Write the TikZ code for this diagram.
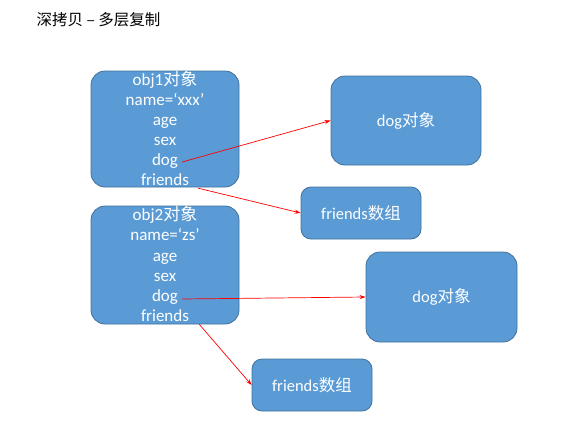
\documentclass[tikz,border=0pt]{standalone}
\usepackage{fontspec}
\setmainfont{Carlito}
\newfontfamily\cjk{Noto Sans CJK SC}
\usetikzlibrary{positioning, arrows.meta, calc}

\definecolor{boxblue}{HTML}{5B9BD5}
\definecolor{boxline}{HTML}{41719C}

\begin{document}
\begin{tikzpicture}[
    x=1pt, y=-1pt,
    objbox/.style={
        draw=boxline, fill=boxblue, rectangle, rounded corners=14pt,
        line width=0.8pt, text=white, font=\fontsize{16.5}{19}\selectfont
    },
    field/.style={text=white, font=\fontsize{17}{19}\selectfont,
        inner sep=1pt, text height=11pt, text depth=3pt},
    ref/.style={-{Stealth[length=6pt, width=4pt]}, red, line width=0.7pt}
]
\useasboundingbox (0,0) rectangle (564,442);

% titel
\node[anchor=west, font=\cjk\fontsize{15.5}{17}\selectfont] (title) at (33,20) {深拷贝 – 多层复制};

% ------------------------------------------------------------------
% 1. objecten
% ------------------------------------------------------------------
\node[objbox, minimum width=148pt, minimum height=116pt] (obj1) at (165,129) {};
\node[objbox, minimum width=148pt, minimum height=118pt] (obj2) at (165,265) {};

\node[objbox, minimum width=150pt, minimum height=89pt] (dog1) at (406,120.5) {dog{\cjk 对象}};
\node[objbox, minimum width=120pt, minimum height=52pt, rounded corners=10pt] (friends1) at (361,213) {friends{\cjk 数组}};
\node[objbox, minimum width=151pt, minimum height=90pt] (dog2) at (441.5,297) {dog{\cjk 对象}};
\node[objbox, minimum width=120pt, minimum height=52pt, rounded corners=10pt] (friends2) at (312,385) {friends{\cjk 数组}};

% ------------------------------------------------------------------
% 2. velden (regels in de objecten)
% ------------------------------------------------------------------
\node[field] (obj1-head) at ($(obj1)+(0,-48)$) {obj1{\cjk 对象}};
\node[field] (obj1-name) at ($(obj1)+(0,-28)$) {name=‘xxx’};
\node[field] (obj2-head) at ($(obj2)+(0,-49)$) {obj2{\cjk 对象}};
\node[field] (obj2-name) at ($(obj2)+(0,-29)$) {name=‘zs’};

\foreach \o in {obj1, obj2} {
    \foreach \f [count=\i from 0] in {age, sex, dog, friends} {
        \node[field] (\o-\f) at ($(\o)+(0,-8+20*\i)$) {\f};
    }
}

% ------------------------------------------------------------------
% 3. verwijzingen
% ------------------------------------------------------------------
\draw[ref] ($(obj1-dog.east)+(3,1)$) -- (dog1.west);
\draw[ref] ($(obj1-friends.south east)+(8,-1)$) -- (friends1.west);
\draw[ref] ($(obj2-dog.east)+(3,2)$) -- (dog2.west);
\draw[ref] ($(obj2-friends.south east)+(9,-1)$) -- (friends2.west);

\end{tikzpicture}
\end{document}
